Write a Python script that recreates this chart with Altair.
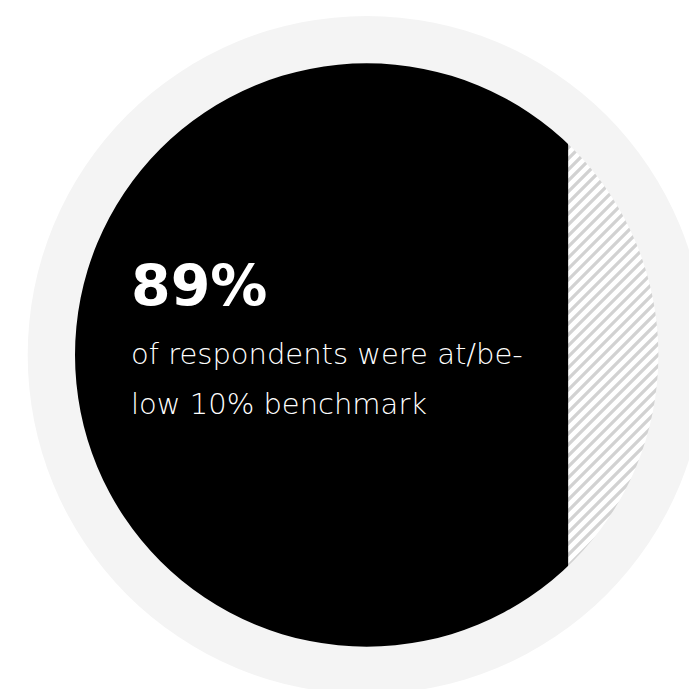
import altair as alt
import pandas as pd

# ---- data ----
share_values = [89]                      # % of respondents at/below benchmark
headline_texts = ["89%"]
caption_lines = ["of respondents were at/be-", "low 10% benchmark"]

W = H = 689
CX, CY = 366.7, 355.0        # centre of the circles (px)
R_IN, R_OUT = 291.7, 339.0   # inner (black) and outer (grey ring) radii

share_df = pd.DataFrame({"start": [0], "value": share_values})
one = pd.DataFrame({"k": [0]})

# decorative hatch stripes (45°, "/" direction)
step = 11
cs = list(range(-10, 2 * W + 20, step))
stripes = pd.DataFrame({
    "x0": [0] * len(cs),
    "y0": cs,
    "x1": [W] * len(cs),
    "y1": [c - W for c in cs],
})

hatch = alt.Chart(stripes).mark_rule(color="#d2d2d2", strokeWidth=3.2).encode(
    x=alt.X("x0:Q", scale=None, axis=None),
    y=alt.Y("y0:Q", scale=None, axis=None),
    x2="x1:Q",
    y2="y1:Q",
)

xscale = alt.Scale(domain=[0, 100], range=[75, 629.1])
filled = alt.Chart(share_df).mark_rect(color="#000000").encode(
    x=alt.X("start:Q", scale=xscale, axis=None),
    x2="value:Q",
    y=alt.value(0),
    y2=alt.value(H),
)

outer_mask = alt.Chart(one).mark_arc(
    radius=R_OUT - 2, radius2=1200, theta=0, theta2=6.2832, color="#ffffff"
).encode(x=alt.value(CX), y=alt.value(CY))

ring = alt.Chart(one).mark_arc(
    radius=R_IN, radius2=R_OUT, theta=0, theta2=6.2832, color="#f4f4f4"
).encode(x=alt.value(CX), y=alt.value(CY))

headline = alt.Chart(pd.DataFrame({"t": headline_texts})).mark_text(
    align="left", baseline="alphabetic", fontSize=57, fontWeight="bold",
    font="DejaVu Sans", color="#ffffff"
).encode(x=alt.value(131), y=alt.value(306), text="t:N")

caption = alt.Chart(one).mark_text(
    align="left", baseline="alphabetic", fontSize=29, fontWeight=300,
    font="DejaVu Sans", color="#ffffff", lineHeight=50,
    text=caption_lines,
).encode(x=alt.value(131), y=alt.value(364))

chart = alt.layer(hatch, filled, outer_mask, ring, headline, caption).resolve_scale(
    x="independent", y="independent"
).properties(
    width=W, height=H, padding=0, autosize=alt.AutoSizeParams(type="none"),
    background="#ffffff",
).configure_view(stroke=None)

chart.save("out.html", embed_options={"renderer": "svg", "actions": False})
